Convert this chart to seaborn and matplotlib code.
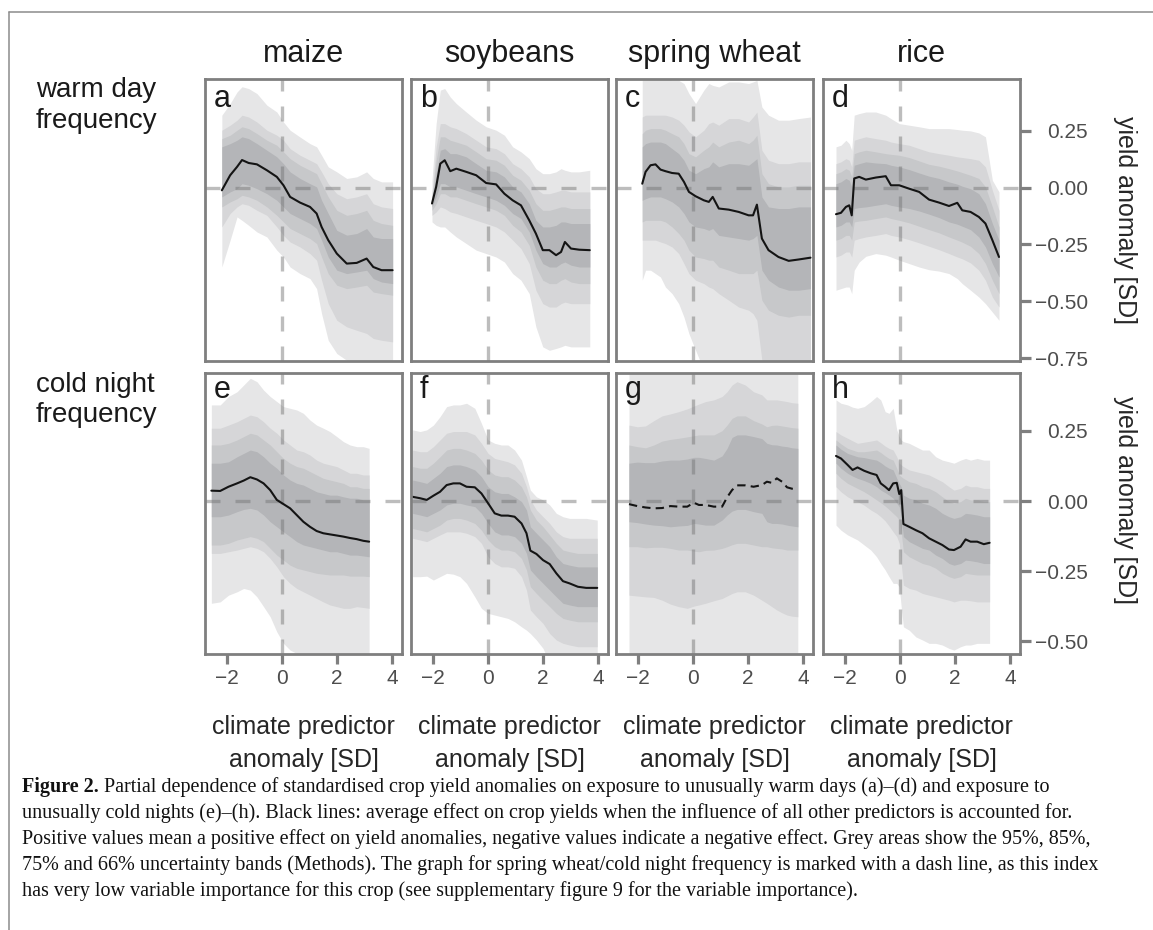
import numpy as np
import pandas as pd
import matplotlib
matplotlib.use("Agg")
import matplotlib.pyplot as plt
import seaborn as sns
from matplotlib.lines import Line2D

# ---------------- data ----------------
CROPS = ["maize", "soybeans", "spring wheat", "rice"]
ROW_LABELS = [["warm day", "frequency"], ["cold night", "frequency"]]
PANEL_LETTERS = ["a", "b", "c", "d", "e", "f", "g", "h"]
X_TICKS = [-2, 0, 2, 4]
X_TICK_LABELS = ["\u22122", "0", "2", "4"]
Y_TICKS_TOP = [0.25, 0.0, -0.25, -0.5, -0.75]
Y_TICK_LABELS_TOP = ["0.25", "0.00", "\u22120.25", "\u22120.50", "\u22120.75"]
Y_TICKS_BOTTOM = [0.25, 0.0, -0.25, -0.5]
Y_TICK_LABELS_BOTTOM = ["0.25", "0.00", "\u22120.25", "\u22120.50"]
X_TITLE = ["climate predictor", "anomaly [SD]"]
Y_TITLE = "yield anomaly [SD]"

# panel a: maize / warm day
a_x = [-2.17, -1.87, -1.62, -1.44, -1.20, -0.90, -0.54, -0.18, 0.06, 0.30, 0.66, 1.02, 1.26, 1.44, 1.68, 1.99, 2.35, 2.71, 3.07, 3.31, 3.61, 4.01]
a_mean = [-0.012, 0.054, 0.091, 0.121, 0.108, 0.102, 0.076, 0.047, 0.010, -0.041, -0.066, -0.085, -0.114, -0.173, -0.231, -0.290, -0.334, -0.331, -0.312, -0.349, -0.363, -0.363]
a_hi95 = [0.318, 0.369, 0.420, 0.443, 0.435, 0.413, 0.362, 0.332, 0.288, 0.252, 0.222, 0.193, 0.179, 0.142, 0.091, 0.069, 0.040, 0.047, 0.069, 0.040, 0.025, 0.025]
a_hi85 = [0.252, 0.274, 0.296, 0.318, 0.310, 0.288, 0.252, 0.230, 0.208, 0.171, 0.142, 0.120, 0.105, 0.069, 0.017, -0.027, -0.049, -0.041, -0.027, -0.071, -0.085, -0.092]
a_hi75 = [0.215, 0.230, 0.252, 0.267, 0.259, 0.237, 0.208, 0.186, 0.157, 0.127, 0.098, 0.076, 0.061, 0.017, -0.041, -0.100, -0.122, -0.114, -0.100, -0.144, -0.158, -0.166]
a_hi66 = [0.179, 0.193, 0.208, 0.223, 0.215, 0.193, 0.164, 0.135, 0.105, 0.069, 0.040, 0.017, 0.003, -0.056, -0.114, -0.188, -0.209, -0.202, -0.180, -0.217, -0.224, -0.224]
a_lo66 = [-0.041, -0.019, -0.005, 0.017, 0.010, -0.005, -0.027, -0.056, -0.085, -0.114, -0.136, -0.158, -0.180, -0.231, -0.305, -0.363, -0.378, -0.371, -0.363, -0.400, -0.415, -0.422]
a_lo75 = [-0.085, -0.063, -0.049, -0.034, -0.041, -0.056, -0.085, -0.122, -0.151, -0.180, -0.202, -0.224, -0.246, -0.305, -0.378, -0.429, -0.444, -0.437, -0.429, -0.459, -0.466, -0.473]
a_lo85 = [-0.173, -0.114, -0.085, -0.071, -0.078, -0.100, -0.122, -0.173, -0.210, -0.239, -0.261, -0.290, -0.319, -0.407, -0.510, -0.583, -0.612, -0.627, -0.641, -0.663, -0.671, -0.678]
a_lo95 = [-0.349, -0.231, -0.129, -0.144, -0.166, -0.195, -0.217, -0.275, -0.305, -0.349, -0.378, -0.400, -0.444, -0.554, -0.671, -0.729, -0.759, -0.780, -0.788, -0.803, -0.817, -0.817]

# panel b: soybeans / warm day
b_x = [-2.02, -1.87, -1.72, -1.56, -1.36, -1.14, -0.78, -0.42, -0.06, 0.30, 0.60, 0.90, 1.20, 1.50, 1.74, 1.99, 2.23, 2.47, 2.65, 2.79, 3.01, 3.31, 3.69]
b_mean = [-0.070, 0.003, 0.105, 0.120, 0.072, 0.083, 0.069, 0.054, 0.020, 0.014, -0.027, -0.056, -0.078, -0.144, -0.202, -0.275, -0.275, -0.297, -0.283, -0.239, -0.268, -0.273, -0.275]
b_hi95 = [0.032, 0.281, 0.428, 0.435, 0.398, 0.369, 0.332, 0.296, 0.267, 0.252, 0.230, 0.179, 0.157, 0.127, 0.083, 0.061, 0.061, 0.069, 0.083, 0.076, 0.069, 0.069, 0.076]
b_hi85 = [-0.027, 0.179, 0.281, 0.281, 0.267, 0.259, 0.237, 0.208, 0.179, 0.171, 0.149, 0.105, 0.083, 0.047, -0.005, -0.027, -0.027, -0.019, -0.012, -0.012, -0.019, -0.019, -0.019]
b_hi75 = [-0.041, 0.120, 0.223, 0.223, 0.208, 0.200, 0.186, 0.157, 0.127, 0.120, 0.098, 0.054, 0.032, -0.012, -0.071, -0.100, -0.100, -0.092, -0.085, -0.085, -0.092, -0.092, -0.092]
b_hi66 = [-0.056, 0.061, 0.164, 0.171, 0.149, 0.149, 0.135, 0.105, 0.076, 0.069, 0.047, 0.003, -0.019, -0.071, -0.144, -0.173, -0.173, -0.166, -0.151, -0.151, -0.158, -0.158, -0.158]
b_lo66 = [-0.085, -0.041, 0.017, 0.017, 0.003, 0.003, -0.012, -0.027, -0.041, -0.056, -0.078, -0.114, -0.136, -0.195, -0.275, -0.334, -0.349, -0.349, -0.334, -0.327, -0.341, -0.349, -0.349]
b_lo75 = [-0.100, -0.071, -0.027, -0.027, -0.041, -0.041, -0.056, -0.071, -0.085, -0.100, -0.122, -0.166, -0.195, -0.254, -0.349, -0.407, -0.422, -0.422, -0.407, -0.400, -0.415, -0.422, -0.422]
b_lo85 = [-0.122, -0.107, -0.085, -0.092, -0.107, -0.114, -0.129, -0.144, -0.158, -0.173, -0.195, -0.231, -0.268, -0.334, -0.451, -0.510, -0.525, -0.525, -0.510, -0.503, -0.510, -0.510, -0.510]
b_lo95 = [-0.151, -0.166, -0.173, -0.173, -0.195, -0.217, -0.246, -0.275, -0.290, -0.305, -0.327, -0.378, -0.407, -0.466, -0.612, -0.700, -0.715, -0.707, -0.700, -0.693, -0.700, -0.700, -0.700]

# panel c: spring wheat / warm day
c_x = [-1.83, -1.71, -1.53, -1.35, -1.17, -0.99, -0.75, -0.51, -0.32, -0.14, 0.10, 0.40, 0.58, 0.72, 0.94, 1.30, 1.66, 2.02, 2.18, 2.32, 2.50, 2.74, 3.10, 3.47, 3.83, 4.26]
c_mean = [0.017, 0.069, 0.098, 0.102, 0.079, 0.072, 0.064, 0.061, 0.025, -0.019, -0.038, -0.056, -0.063, -0.041, -0.092, -0.097, -0.107, -0.122, -0.122, -0.075, -0.224, -0.275, -0.305, -0.322, -0.316, -0.308]
c_hi95 = [0.479, 0.486, 0.486, 0.486, 0.479, 0.479, 0.471, 0.471, 0.457, 0.413, 0.369, 0.428, 0.457, 0.449, 0.442, 0.464, 0.464, 0.457, 0.464, 0.471, 0.354, 0.318, 0.296, 0.296, 0.303, 0.310]
c_hi85 = [0.310, 0.318, 0.318, 0.318, 0.318, 0.318, 0.310, 0.296, 0.274, 0.245, 0.223, 0.252, 0.281, 0.288, 0.274, 0.303, 0.303, 0.288, 0.310, 0.332, 0.164, 0.120, 0.105, 0.105, 0.113, 0.113]
c_hi75 = [0.237, 0.252, 0.259, 0.259, 0.259, 0.252, 0.237, 0.223, 0.193, 0.149, 0.135, 0.164, 0.179, 0.200, 0.179, 0.200, 0.208, 0.193, 0.208, 0.230, 0.061, 0.017, 0.003, 0.003, 0.010, 0.010]
c_hi66 = [0.179, 0.193, 0.200, 0.200, 0.200, 0.193, 0.171, 0.149, 0.120, 0.076, 0.061, 0.083, 0.091, 0.113, 0.091, 0.105, 0.105, 0.098, 0.113, 0.127, -0.041, -0.085, -0.092, -0.092, -0.085, -0.085]
c_lo66 = [-0.056, -0.049, -0.041, -0.041, -0.041, -0.049, -0.063, -0.085, -0.114, -0.151, -0.173, -0.180, -0.188, -0.180, -0.210, -0.217, -0.224, -0.231, -0.224, -0.210, -0.363, -0.407, -0.437, -0.451, -0.451, -0.444]
c_lo75 = [-0.151, -0.144, -0.144, -0.144, -0.144, -0.151, -0.173, -0.202, -0.231, -0.275, -0.305, -0.312, -0.319, -0.319, -0.349, -0.363, -0.378, -0.378, -0.378, -0.363, -0.495, -0.539, -0.561, -0.569, -0.561, -0.561]
c_lo85 = [-0.231, -0.231, -0.231, -0.231, -0.239, -0.246, -0.261, -0.290, -0.334, -0.378, -0.407, -0.422, -0.437, -0.444, -0.466, -0.495, -0.525, -0.539, -0.554, -0.583, -0.759, -0.803, -0.817, -0.817, -0.817, -0.817]
c_lo95 = [-0.407, -0.363, -0.363, -0.378, -0.393, -0.437, -0.466, -0.510, -0.569, -0.642, -0.715, -0.803, -0.832, -0.847, -0.876, -0.905, -0.935, -0.935, -0.935, -0.935, -0.964, -0.993, -1.008, -1.008, -1.008, -1.008]

# panel d: rice / warm day
d_x = [-2.31, -2.13, -1.95, -1.83, -1.74, -1.65, -1.47, -1.23, -0.87, -0.51, -0.32, -0.02, 0.34, 0.70, 1.06, 1.42, 1.78, 2.08, 2.26, 2.56, 2.86, 3.10, 3.35, 3.59]
d_mean = [-0.117, -0.111, -0.085, -0.078, -0.122, 0.040, 0.047, 0.035, 0.044, 0.050, 0.010, 0.010, -0.005, -0.019, -0.053, -0.066, -0.081, -0.067, -0.100, -0.107, -0.129, -0.158, -0.231, -0.305]
d_hi95 = [0.179, 0.186, 0.208, 0.193, 0.164, 0.318, 0.325, 0.332, 0.332, 0.318, 0.303, 0.281, 0.274, 0.267, 0.259, 0.259, 0.259, 0.255, 0.252, 0.249, 0.240, 0.223, 0.032, -0.019]
d_hi85 = [0.105, 0.113, 0.127, 0.120, 0.091, 0.208, 0.215, 0.223, 0.215, 0.208, 0.200, 0.193, 0.186, 0.171, 0.157, 0.149, 0.142, 0.135, 0.132, 0.127, 0.120, 0.091, -0.012, -0.100]
d_hi75 = [0.061, 0.069, 0.083, 0.076, 0.047, 0.149, 0.157, 0.164, 0.157, 0.149, 0.146, 0.142, 0.132, 0.117, 0.102, 0.094, 0.083, 0.073, 0.066, 0.054, 0.040, 0.003, -0.085, -0.173]
d_hi66 = [0.017, 0.025, 0.040, 0.032, 0.003, 0.098, 0.105, 0.113, 0.108, 0.105, 0.098, 0.091, 0.079, 0.064, 0.050, 0.040, 0.025, 0.015, 0.006, -0.005, -0.027, -0.071, -0.158, -0.231]
d_lo66 = [-0.173, -0.166, -0.151, -0.151, -0.173, -0.092, -0.088, -0.085, -0.078, -0.071, -0.078, -0.085, -0.092, -0.103, -0.117, -0.132, -0.151, -0.161, -0.170, -0.185, -0.217, -0.261, -0.334, -0.393]
d_lo75 = [-0.231, -0.224, -0.210, -0.210, -0.231, -0.151, -0.147, -0.144, -0.136, -0.129, -0.136, -0.144, -0.155, -0.170, -0.185, -0.199, -0.217, -0.231, -0.240, -0.258, -0.290, -0.334, -0.407, -0.466]
d_lo85 = [-0.305, -0.297, -0.283, -0.283, -0.305, -0.231, -0.224, -0.217, -0.210, -0.202, -0.210, -0.217, -0.229, -0.243, -0.258, -0.273, -0.290, -0.305, -0.313, -0.331, -0.363, -0.407, -0.481, -0.525]
d_lo95 = [-0.451, -0.444, -0.437, -0.437, -0.466, -0.363, -0.327, -0.302, -0.290, -0.297, -0.305, -0.319, -0.334, -0.349, -0.361, -0.367, -0.378, -0.400, -0.422, -0.451, -0.481, -0.510, -0.547, -0.583]

# panel e: maize / cold night
e_x = [-2.55, -2.23, -1.93, -1.62, -1.38, -1.14, -0.90, -0.66, -0.42, -0.18, 0.06, 0.30, 0.54, 0.78, 1.02, 1.26, 1.50, 1.74, 1.99, 2.23, 2.47, 2.71, 2.95, 3.16]
e_mean = [0.037, 0.036, 0.051, 0.063, 0.073, 0.085, 0.077, 0.063, 0.039, 0.004, -0.011, -0.026, -0.050, -0.074, -0.092, -0.107, -0.115, -0.119, -0.123, -0.127, -0.132, -0.136, -0.142, -0.145]
e_hi95 = [0.343, 0.343, 0.373, 0.390, 0.414, 0.438, 0.426, 0.396, 0.373, 0.355, 0.337, 0.331, 0.325, 0.313, 0.289, 0.271, 0.260, 0.248, 0.230, 0.212, 0.200, 0.194, 0.194, 0.188]
e_hi85 = [0.260, 0.260, 0.271, 0.283, 0.295, 0.307, 0.301, 0.283, 0.260, 0.242, 0.218, 0.200, 0.182, 0.176, 0.164, 0.146, 0.135, 0.129, 0.123, 0.111, 0.099, 0.099, 0.093, 0.093]
e_hi75 = [0.200, 0.200, 0.206, 0.218, 0.230, 0.242, 0.236, 0.218, 0.200, 0.176, 0.152, 0.135, 0.123, 0.117, 0.105, 0.093, 0.081, 0.075, 0.069, 0.063, 0.051, 0.051, 0.045, 0.045]
e_hi66 = [0.135, 0.135, 0.140, 0.158, 0.170, 0.182, 0.176, 0.158, 0.135, 0.117, 0.093, 0.075, 0.063, 0.057, 0.045, 0.033, 0.027, 0.021, 0.021, 0.015, 0.010, 0.010, 0.004, 0.004]
e_lo66 = [-0.056, -0.056, -0.050, -0.038, -0.030, -0.026, -0.032, -0.050, -0.074, -0.092, -0.110, -0.127, -0.145, -0.157, -0.163, -0.169, -0.175, -0.181, -0.181, -0.187, -0.193, -0.193, -0.196, -0.199]
e_lo75 = [-0.157, -0.157, -0.151, -0.139, -0.133, -0.127, -0.133, -0.145, -0.169, -0.193, -0.211, -0.229, -0.240, -0.246, -0.252, -0.258, -0.261, -0.264, -0.264, -0.264, -0.268, -0.268, -0.268, -0.270]
e_lo85 = [-0.187, -0.187, -0.181, -0.175, -0.169, -0.163, -0.169, -0.181, -0.205, -0.235, -0.270, -0.294, -0.312, -0.324, -0.336, -0.348, -0.360, -0.371, -0.377, -0.383, -0.383, -0.377, -0.380, -0.383]
e_lo95 = [-0.365, -0.360, -0.336, -0.324, -0.312, -0.318, -0.342, -0.377, -0.413, -0.467, -0.508, -0.532, -0.544, -0.568, -0.592, -0.604, -0.620, -0.620, -0.620, -0.620, -0.620, -0.620, -0.620, -0.620]

# panel f: soybeans / cold night
f_x = [-2.72, -2.45, -2.21, -1.97, -1.73, -1.49, -1.25, -1.01, -0.77, -0.47, -0.23, 0.01, 0.25, 0.49, 0.73, 0.97, 1.22, 1.40, 1.54, 1.76, 2.00, 2.24, 2.48, 2.72, 2.96, 3.26, 3.56, 3.96]
f_mean = [0.015, 0.010, 0.004, 0.019, 0.033, 0.057, 0.063, 0.063, 0.051, 0.049, 0.027, -0.008, -0.044, -0.052, -0.052, -0.056, -0.080, -0.115, -0.177, -0.189, -0.211, -0.225, -0.258, -0.286, -0.294, -0.306, -0.310, -0.310]
f_hi95 = [0.254, 0.248, 0.254, 0.271, 0.301, 0.337, 0.343, 0.343, 0.349, 0.331, 0.277, 0.218, 0.206, 0.200, 0.200, 0.182, 0.146, 0.087, 0.039, 0.015, 0.004, -0.014, -0.044, -0.056, -0.062, -0.062, -0.062, -0.068]
f_hi85 = [0.182, 0.176, 0.176, 0.194, 0.218, 0.242, 0.248, 0.248, 0.248, 0.236, 0.206, 0.170, 0.152, 0.146, 0.140, 0.129, 0.099, 0.051, 0.004, -0.032, -0.056, -0.080, -0.110, -0.127, -0.133, -0.133, -0.133, -0.133]
f_hi75 = [0.123, 0.117, 0.117, 0.135, 0.158, 0.182, 0.188, 0.188, 0.182, 0.170, 0.146, 0.111, 0.093, 0.087, 0.087, 0.075, 0.051, 0.015, -0.032, -0.068, -0.092, -0.121, -0.151, -0.175, -0.181, -0.187, -0.187, -0.187]
f_hi66 = [0.075, 0.069, 0.063, 0.081, 0.099, 0.123, 0.129, 0.129, 0.123, 0.111, 0.087, 0.051, 0.033, 0.027, 0.027, 0.015, -0.002, -0.032, -0.092, -0.115, -0.139, -0.163, -0.199, -0.223, -0.229, -0.235, -0.235, -0.235]
f_lo66 = [-0.044, -0.050, -0.056, -0.044, -0.032, -0.014, -0.008, -0.008, -0.014, -0.020, -0.044, -0.080, -0.110, -0.121, -0.121, -0.127, -0.151, -0.187, -0.246, -0.270, -0.294, -0.318, -0.342, -0.365, -0.371, -0.377, -0.377, -0.377]
f_lo75 = [-0.098, -0.104, -0.110, -0.098, -0.086, -0.068, -0.062, -0.062, -0.068, -0.080, -0.104, -0.139, -0.163, -0.175, -0.175, -0.181, -0.205, -0.246, -0.306, -0.330, -0.354, -0.377, -0.401, -0.419, -0.425, -0.431, -0.431, -0.431]
f_lo85 = [-0.133, -0.139, -0.145, -0.133, -0.121, -0.110, -0.110, -0.110, -0.115, -0.127, -0.151, -0.199, -0.223, -0.235, -0.235, -0.240, -0.270, -0.318, -0.389, -0.413, -0.437, -0.473, -0.496, -0.508, -0.514, -0.520, -0.520, -0.520]
f_lo95 = [-0.270, -0.270, -0.268, -0.282, -0.270, -0.258, -0.261, -0.270, -0.294, -0.342, -0.383, -0.401, -0.407, -0.413, -0.419, -0.431, -0.449, -0.461, -0.473, -0.496, -0.526, -0.580, -0.627, -0.651, -0.651, -0.651, -0.651, -0.651]

# panel g: spring wheat / cold night (dashed: low variable importance)
g_x = [-2.31, -2.01, -1.71, -1.41, -1.11, -0.81, -0.51, -0.20, 0.04, 0.22, 0.46, 0.76, 1.06, 1.24, 1.42, 1.60, 1.90, 2.20, 2.50, 2.68, 2.86, 3.04, 3.23, 3.41, 3.59, 3.80]
g_mean = [-0.011, -0.018, -0.023, -0.026, -0.025, -0.018, -0.020, -0.020, -0.006, -0.014, -0.014, -0.020, -0.020, 0.013, 0.039, 0.056, 0.056, 0.051, 0.057, 0.069, 0.065, 0.081, 0.069, 0.049, 0.044, 0.042]
g_hi95 = [0.462, 0.465, 0.468, 0.470, 0.472, 0.474, 0.474, 0.476, 0.478, 0.480, 0.482, 0.484, 0.486, 0.488, 0.490, 0.490, 0.490, 0.490, 0.490, 0.490, 0.490, 0.490, 0.490, 0.490, 0.490, 0.490]
g_hi85 = [0.271, 0.265, 0.268, 0.287, 0.304, 0.311, 0.319, 0.329, 0.339, 0.346, 0.355, 0.361, 0.373, 0.390, 0.414, 0.426, 0.414, 0.390, 0.379, 0.361, 0.361, 0.361, 0.358, 0.355, 0.351, 0.349]
g_hi75 = [0.200, 0.194, 0.190, 0.200, 0.214, 0.220, 0.224, 0.229, 0.233, 0.236, 0.236, 0.236, 0.251, 0.271, 0.295, 0.304, 0.304, 0.287, 0.275, 0.265, 0.270, 0.271, 0.268, 0.265, 0.262, 0.260]
g_hi66 = [0.135, 0.139, 0.137, 0.137, 0.143, 0.146, 0.146, 0.150, 0.156, 0.156, 0.152, 0.146, 0.161, 0.188, 0.227, 0.236, 0.236, 0.230, 0.223, 0.206, 0.201, 0.200, 0.196, 0.194, 0.190, 0.188]
g_lo66 = [-0.074, -0.077, -0.082, -0.086, -0.088, -0.092, -0.089, -0.087, -0.080, -0.082, -0.086, -0.086, -0.068, -0.050, -0.036, -0.030, -0.030, -0.038, -0.044, -0.074, -0.080, -0.080, -0.082, -0.086, -0.089, -0.092]
g_lo75 = [-0.163, -0.163, -0.167, -0.165, -0.165, -0.169, -0.175, -0.175, -0.179, -0.181, -0.176, -0.175, -0.169, -0.163, -0.156, -0.151, -0.151, -0.157, -0.163, -0.163, -0.167, -0.169, -0.171, -0.175, -0.175, -0.175]
g_lo85 = [-0.336, -0.339, -0.342, -0.344, -0.354, -0.368, -0.377, -0.383, -0.375, -0.371, -0.365, -0.356, -0.348, -0.339, -0.330, -0.324, -0.324, -0.336, -0.354, -0.365, -0.377, -0.389, -0.399, -0.407, -0.411, -0.413]
g_lo95 = [-0.620, -0.620, -0.620, -0.620, -0.620, -0.620, -0.620, -0.620, -0.620, -0.620, -0.620, -0.620, -0.620, -0.620, -0.620, -0.620, -0.620, -0.620, -0.620, -0.620, -0.620, -0.620, -0.620, -0.620, -0.620, -0.620]

# panel h: rice / cold night
h_x = [-2.31, -2.13, -1.89, -1.71, -1.53, -1.29, -1.05, -0.84, -0.69, -0.53, -0.39, -0.24, -0.11, -0.02, 0.05, 0.13, 0.34, 0.58, 0.82, 1.06, 1.30, 1.54, 1.78, 1.96, 2.20, 2.38, 2.56, 2.80, 3.04, 3.25]
h_mean = [0.161, 0.152, 0.129, 0.111, 0.120, 0.108, 0.099, 0.093, 0.063, 0.051, 0.039, 0.063, 0.065, 0.025, 0.039, -0.082, -0.092, -0.104, -0.115, -0.133, -0.145, -0.157, -0.173, -0.175, -0.163, -0.137, -0.145, -0.145, -0.154, -0.149]
h_hi95 = [0.361, 0.349, 0.343, 0.335, 0.331, 0.337, 0.355, 0.373, 0.361, 0.319, 0.313, 0.331, 0.254, 0.230, 0.218, 0.212, 0.206, 0.194, 0.182, 0.182, 0.158, 0.146, 0.140, 0.135, 0.146, 0.152, 0.146, 0.152, 0.146, 0.146]
h_hi85 = [0.248, 0.236, 0.224, 0.215, 0.206, 0.210, 0.214, 0.218, 0.208, 0.196, 0.188, 0.182, 0.158, 0.135, 0.129, 0.123, 0.111, 0.105, 0.099, 0.093, 0.081, 0.069, 0.051, 0.039, 0.045, 0.057, 0.051, 0.051, 0.045, 0.045]
h_hi75 = [0.218, 0.204, 0.188, 0.182, 0.176, 0.176, 0.179, 0.182, 0.173, 0.161, 0.152, 0.146, 0.117, 0.093, 0.087, 0.081, 0.069, 0.063, 0.051, 0.045, 0.033, 0.015, -0.002, -0.008, -0.002, 0.010, 0.004, 0.004, -0.002, -0.002]
h_hi66 = [0.200, 0.185, 0.170, 0.164, 0.158, 0.155, 0.150, 0.146, 0.137, 0.125, 0.117, 0.111, 0.081, 0.063, 0.051, 0.021, 0.010, 0.004, -0.008, -0.014, -0.026, -0.044, -0.056, -0.062, -0.056, -0.044, -0.046, -0.050, -0.056, -0.056]
h_lo66 = [0.135, 0.117, 0.099, 0.089, 0.081, 0.073, 0.063, 0.051, 0.039, 0.030, 0.021, 0.010, -0.008, -0.020, -0.056, -0.127, -0.145, -0.157, -0.169, -0.175, -0.193, -0.205, -0.223, -0.229, -0.223, -0.211, -0.213, -0.217, -0.223, -0.223]
h_lo75 = [0.099, 0.081, 0.063, 0.054, 0.045, 0.033, 0.018, 0.004, -0.006, -0.018, -0.030, -0.044, -0.056, -0.068, -0.110, -0.181, -0.199, -0.211, -0.223, -0.229, -0.240, -0.258, -0.270, -0.276, -0.270, -0.258, -0.261, -0.264, -0.264, -0.264]
h_lo85 = [0.051, 0.033, 0.015, 0.006, -0.002, -0.015, -0.032, -0.044, -0.056, -0.071, -0.089, -0.110, -0.127, -0.151, -0.223, -0.300, -0.312, -0.318, -0.330, -0.336, -0.342, -0.348, -0.354, -0.360, -0.354, -0.354, -0.356, -0.360, -0.360, -0.360]
h_lo95 = [-0.086, -0.104, -0.121, -0.130, -0.139, -0.157, -0.175, -0.199, -0.223, -0.246, -0.270, -0.294, -0.294, -0.306, -0.377, -0.449, -0.461, -0.485, -0.496, -0.508, -0.508, -0.514, -0.526, -0.532, -0.520, -0.514, -0.514, -0.508, -0.508, -0.508]

DASHED_PANELS = ["g"]

CAPTION_BOLD = "Figure 2."
CAPTION_LINES = [
    " Partial dependence of standardised crop yield anomalies on exposure to unusually warm days (a)\u2013(d) and exposure to",
    "unusually cold nights (e)\u2013(h). Black lines: average effect on crop yields when the influence of all other predictors is accounted for.",
    "Positive values mean a positive effect on yield anomalies, negative values indicate a negative effect. Grey areas show the 95%, 85%,",
    "75% and 66% uncertainty bands (Methods). The graph for spring wheat/cold night frequency is marked with a dash line, as this index",
    "has very low variable importance for this crop (see supplementary figure 9 for the variable importance).",
]

# ---------------- assemble ----------------
env = globals()
PANELS = {}
for p in PANEL_LETTERS:
    PANELS[p] = {k: np.asarray(env[f"{p}_{k}"], float)
                 for k in ["x", "mean", "hi95", "hi85", "hi75", "hi66", "lo66", "lo75", "lo85", "lo95"]}

# ---------------- style ----------------
sns.set_theme(style="white")
plt.rcParams["font.family"] = ["Liberation Sans", "DejaVu Sans"]
plt.rcParams["axes.unicode_minus"] = True

W, H = 1153, 930
fig = plt.figure(figsize=(W / 100, H / 100), dpi=100)
fig.patch.set_facecolor("white")

COL_PX = [(205, 402), (411, 608), (616, 813), (823, 1020)]
ROW_PX = [(79, 361), (373, 654)]
XLIM = (-2.78, 4.35)
YLIMS = [(-0.762, 0.477), (-0.546, 0.457)]
BAND_COLORS = [("95", "#e6e6e7"), ("85", "#d6d6d8"), ("75", "#c7c8ca"), ("66", "#b4b5b8")]
FRAME = "#7f7f7f"
TICKTXT = "#4d4d4d"
DARK = "#1a1a1a"


def rect(l, t, r, b):
    return [l / W, 1 - b / H, (r - l) / W, (b - t) / H]


for ri in range(2):
    for ci in range(4):
        p = PANEL_LETTERS[ri * 4 + ci]
        d = PANELS[p]
        l, r = COL_PX[ci]
        t, b = ROW_PX[ri]
        ax = fig.add_axes(rect(l, t, r, b))
        ax.set_facecolor("white")
        for lvl, col in BAND_COLORS:
            ax.fill_between(d["x"], d["lo" + lvl], d["hi" + lvl], color=col, lw=0, zorder=1)
        ref = dict(color="#747474", alpha=0.47, lw=2.4, ls=(0, (4.5, 4.5)), zorder=2)
        ax.axhline(0, **ref)
        ax.axvline(0, **ref)
        df = pd.DataFrame({"x": d["x"], "mean": d["mean"]})
        ls = (0, (4, 2.5)) if p in DASHED_PANELS else "-"
        sns.lineplot(data=df, x="x", y="mean", ax=ax, color="#141414", linewidth=1.5,
                     linestyle=ls, errorbar=None, legend=False, zorder=3)
        ax.set_xlabel("")
        ax.set_ylabel("")
        ax.set_xlim(*XLIM)
        ax.set_ylim(*YLIMS[ri])
        for s in ax.spines.values():
            s.set_visible(True)
            s.set_color(FRAME)
            s.set_linewidth(2.0)
            s.set_zorder(5)
        # x axis
        if ri == 1:
            ax.set_xticks(X_TICKS, labels=X_TICK_LABELS)
            ax.tick_params(axis="x", bottom=True, direction="out", length=7.5, width=2.3,
                           color=FRAME, labelsize=15, labelcolor=TICKTXT, pad=3)
        else:
            ax.set_xticks(X_TICKS)
            ax.tick_params(axis="x", bottom=False, labelbottom=False)
        # y axis
        if ci == 3:
            yt = Y_TICKS_TOP if ri == 0 else Y_TICKS_BOTTOM
            yl = Y_TICK_LABELS_TOP if ri == 0 else Y_TICK_LABELS_BOTTOM
            ax.yaxis.tick_right()
            ax.set_yticks(yt, labels=yl, ha="right")
            ax.tick_params(axis="y", left=False, right=True, labelleft=False, labelright=True,
                           direction="out", length=8, width=2.3, color=FRAME,
                           labelsize=15, labelcolor=TICKTXT, pad=41)
        else:
            ax.tick_params(axis="y", left=False, right=False, labelleft=False, labelright=False)
        # panel letter
        base = t + (28 if ri == 0 else 25)
        fig.text((l + 9) / W, 1 - base / H, p, ha="left", va="baseline",
                 fontsize=22, color=DARK)

# strip titles (columns)
for ci, crop in enumerate(CROPS):
    cx = sum(COL_PX[ci]) / 2
    fig.text(cx / W, 1 - 62 / H, crop, ha="center", va="baseline", fontsize=22, color=DARK)

# row labels
ROW_BASELINES = [(97, 128), (392, 422)]
for ri, lines in enumerate(ROW_LABELS):
    for li, txt in enumerate(lines):
        fig.text(36 / W, 1 - ROW_BASELINES[ri][li] / H, txt, ha="left", va="baseline",
                 fontsize=20, color=DARK)

# x titles
for ci in range(4):
    cx = sum(COL_PX[ci]) / 2
    fig.text(cx / W, 1 - 727 / H, X_TITLE[0], ha="center", va="center", fontsize=18, color="#262626")
    fig.text(cx / W, 1 - 760 / H, X_TITLE[1], ha="center", va="center", fontsize=18, color="#262626")

# y titles
for yc in (220, 500):
    fig.text(1125 / W, 1 - yc / H, Y_TITLE, ha="center", va="center", rotation=270,
             fontsize=18, color="#262626")

# page frame lines
fig.add_artist(Line2D([9 / W, 1.0], [1 - 12 / H, 1 - 12 / H], transform=fig.transFigure,
                      color="#8c8c8c", lw=1.1))
fig.add_artist(Line2D([9 / W, 9 / W], [1 - 12 / H, 0.0], transform=fig.transFigure,
                      color="#8c8c8c", lw=1.1))

# caption
renderer = fig.canvas.get_renderer()
serif = ["Liberation Serif", "DejaVu Serif"]
probe = fig.text(0, 0, CAPTION_LINES[3], fontsize=14, family=serif)
wpx = probe.get_window_extent(renderer).width
probe.remove()
cap_fs = 14 * 1084 / wpx
CAP_X = 22
CAP_BASE0 = 792
CAP_STEP = 26
bold = fig.text(CAP_X / W, 1 - CAP_BASE0 / H, CAPTION_BOLD, fontsize=cap_fs, family=serif,
                weight="bold", ha="left", va="baseline", color="#111111")
bx1 = bold.get_window_extent(renderer).x1
for i, line in enumerate(CAPTION_LINES):
    x0 = bx1 if i == 0 else CAP_X
    fig.text(x0 / W, 1 - (CAP_BASE0 + i * CAP_STEP) / H, line, fontsize=cap_fs, family=serif,
             ha="left", va="baseline", color="#111111")

fig.savefig("out.png", dpi=100, facecolor="white")
